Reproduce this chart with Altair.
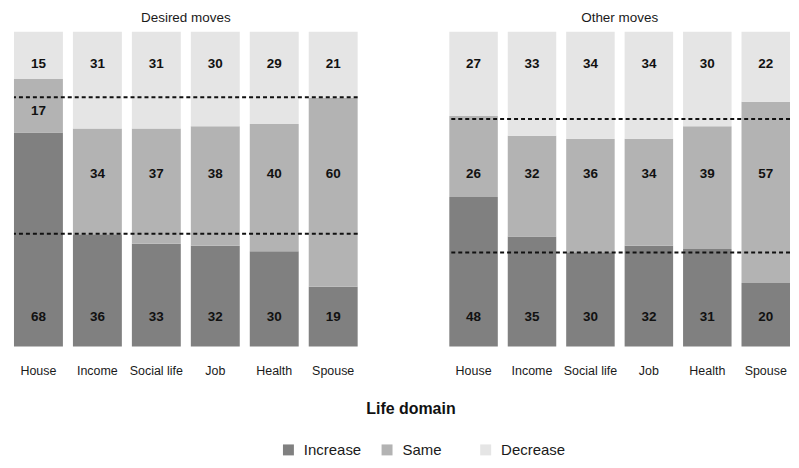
import altair as alt
import pandas as pd

domains = ["House", "Income", "Social life", "Job", "Health", "Spouse"]
categories = ["Increase", "Same", "Decrease"]
colors = ["#808080", "#b3b3b3", "#e5e5e5"]

desired_increase = [68, 36, 33, 32, 30, 19]
desired_same = [17, 34, 37, 38, 40, 60]
desired_decrease = [15, 31, 31, 30, 29, 21]
other_increase = [48, 35, 30, 32, 31, 20]
other_same = [26, 32, 36, 34, 39, 57]
other_decrease = [27, 33, 34, 34, 30, 22]

# dashed reference lines (share of bar height)
desired_lines = [0.358, 0.792]
other_lines = [0.299, 0.723]

# label heights (share of bar height) for Increase / Same / Decrease
desired_label_pos = [[0.095] * 6, [0.748, 0.548, 0.548, 0.548, 0.548, 0.548], [0.897] * 6]
other_label_pos = [[0.095] * 6, [0.548] * 6, [0.897] * 6]

FONT = "Liberation Sans"


def panel(title, inc, same, dec, label_pos, lines, width):
    rows = []
    for i, d in enumerate(domains):
        for k, (cat, vals) in enumerate(zip(categories, [inc, same, dec])):
            rows.append(dict(domain=d, category=cat, value=vals[i], k=k,
                             label_y=label_pos[k][i]))
    df = pd.DataFrame(rows)
    x = alt.X("domain:N", sort=domains,
              scale=alt.Scale(paddingInner=0.17, paddingOuter=0),
              axis=alt.Axis(title=None, labelAngle=0, domain=False, ticks=False,
                            labelPadding=18, labelFontSize=12.5, labelFont=FONT,
                            labelColor="#1a1a1a"))
    yscale = alt.Scale(domain=[0, 1], nice=False)
    bars = alt.Chart(df).mark_bar().encode(
        x=x,
        y=alt.Y("value:Q", stack="normalize", scale=yscale, axis=None),
        color=alt.Color("category:N", sort=categories,
                        scale=alt.Scale(domain=categories, range=colors),
                        legend=alt.Legend(title=None, orient="none", direction="horizontal",
                                          legendX=268, legendY=412,
                                          symbolType="square", symbolSize=121,
                                          symbolStrokeWidth=0, labelFontSize=15,
                                          labelFont=FONT, labelColor="#1a1a1a",
                                          labelOffset=8, columnPadding=11,
                                          gridAlign="all")),
        order=alt.Order("k:Q", sort="ascending"),
    )
    text = alt.Chart(df).mark_text(fontWeight="bold", fontSize=13.5, font=FONT,
                                   color="#111111").encode(
        x=x,
        y=alt.Y("label_y:Q", scale=yscale, axis=None),
        text=alt.Text("value:Q"),
    )
    rules = alt.Chart(pd.DataFrame({"y": lines})).mark_rule(
        color="#111111", strokeDash=[4, 3], strokeWidth=2).encode(
        y=alt.Y("y:Q", scale=yscale, axis=None))
    return alt.layer(bars, text, rules).properties(
        width=width, height=316,
        title=alt.TitleParams(title, fontSize=13.5, fontWeight="normal", font=FONT,
                              color="#1a1a1a", offset=7, anchor="middle"))


left = panel("Desired moves", desired_increase, desired_same, desired_decrease,
             desired_label_pos, desired_lines, 345)
right = panel("Other moves", other_increase, other_same, other_decrease,
              other_label_pos, other_lines, 342)

chart = alt.hconcat(left, right, spacing=90).properties(
    padding={"left": 5, "top": 2, "right": 0, "bottom": 0},
    title=alt.TitleParams("Life domain", orient="bottom", anchor="middle",
                          fontSize=16, fontWeight="bold", font=FONT,
                          color="#111111", offset=0, dx=9, dy=-57),
).configure_view(stroke=None)

chart.save("out.html", embed_options={"renderer": "svg", "actions": False})
